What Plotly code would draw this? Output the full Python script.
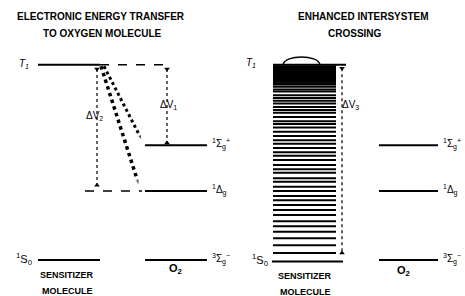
import plotly.graph_objects as go

# ---- data (energies in eV, relative to ground state) ----
s0_energy = 0.0
t1_energy = 2.77
o2_levels = [0.0, 0.98, 1.63]
o2_labels = ["<sup>3</sup>Σ<sub>g</sub><sup>−</sup>", "<sup>1</sup>Δ<sub>g</sub>", "<sup>1</sup>Σ<sub>g</sub><sup>+</sup>"]
isc_ladder = [0.10, 0.21, 0.31, 0.40, 0.48, 0.55, 0.64, 0.71, 0.78, 0.85, 0.91, 0.98,
              1.04, 1.11, 1.16, 1.24, 1.29, 1.35, 1.42, 1.48, 1.53, 1.59, 1.65, 1.70,
              1.76, 1.82, 1.88, 1.93, 1.97, 2.03, 2.09, 2.13, 2.17, 2.22, 2.26, 2.30,
              2.34, 2.39, 2.42, 2.46, 2.49, 2.51, 2.53, 2.55, 2.57, 2.59, 2.61, 2.63,
              2.65, 2.67, 2.69, 2.71, 2.73, 2.75]
titles_left = ["ELECTRONIC ENERGY TRANSFER", "TO OXYGEN MOLECULE"]
titles_right = ["ENHANCED INTERSYSTEM", "CROSSING"]

FONT = "Liberation Sans, Arial, sans-serif"
BLK = "black"

fig = go.Figure()

def hline(x0, x1, y, dash="solid", width=2):
    fig.add_trace(go.Scatter(x=[x0, x1], y=[y, y], mode="lines",
                             line=dict(color=BLK, width=width, dash=dash),
                             hoverinfo="skip", showlegend=False))

def vdouble(x, y0, y1):
    fig.add_trace(go.Scatter(x=[x, x], y=[y0, y1], mode="lines+markers",
                             line=dict(color=BLK, width=1.2, dash="dot"),
                             marker=dict(symbol=["triangle-down", "triangle-up"], size=5, color=BLK),
                             hoverinfo="skip", showlegend=False))

def txt(x, y, s, size=11, anchor="center", bold=False):
    fig.add_annotation(x=x, y=y, text=("<b>%s</b>" % s) if bold else s, showarrow=False,
                       xanchor=anchor, yanchor="middle",
                       font=dict(family=FONT, size=size, color=BLK))

# ---------------- LEFT PANEL ----------------
hline(38, 100, t1_energy)
hline(100, 170, t1_energy, dash="dash", width=1.5)
hline(38, 100, s0_energy)
for e in o2_levels:
    hline(145, 207, e)
hline(85, 142, o2_levels[1], dash="dash", width=1.5)
for e, lab in zip(o2_levels, o2_labels):
    txt(210, e + 0.02, lab, size=10, anchor="left")

vdouble(167, t1_energy - 0.06, o2_levels[2] + 0.03)
vdouble(97, t1_energy - 0.06, o2_levels[1] + 0.08)
txt(168, 2.20, "ΔV<sub>1</sub>", size=10)
txt(94, 2.05, "ΔV<sub>2</sub>", size=10)

fig.add_trace(go.Scatter(x=[101, 139], y=[t1_energy - 0.02, o2_levels[1] + 0.08], mode="lines+markers",
                         line=dict(color=BLK, width=3.5, dash="dot"),
                         marker=dict(symbol="arrow", angleref="previous", size=[0, 6], color=BLK),
                         hoverinfo="skip", showlegend=False))
fig.add_trace(go.Scatter(x=[104, 142], y=[t1_energy - 0.02, o2_levels[2] + 0.07], mode="lines+markers",
                         line=dict(color=BLK, width=3, dash="dot"),
                         marker=dict(symbol="arrow", angleref="previous", size=[0, 6], color=BLK),
                         hoverinfo="skip", showlegend=False))

txt(31, t1_energy + 0.01, "<i>T<sub>1</sub></i>", size=10, anchor="right")
txt(34, s0_energy + 0.01, "<sup>1</sup>S<sub>0</sub>", size=11, anchor="right")
txt(67, -0.21, "SENSITIZER", size=9, bold=True)
txt(67, -0.44, "MOLECULE", size=9, bold=True)
txt(175, -0.12, "O<sub>2</sub>", size=11, bold=True)
txt(101, 3.45, titles_left[0], size=10, bold=True)
txt(102, 3.22, titles_left[1], size=10, bold=True)

# ---------------- RIGHT PANEL ----------------
lx, ly = [], []
for e in isc_ladder:
    lx += [273, 336, None]
    ly += [e, e, None]
fig.add_trace(go.Scatter(x=lx, y=ly, mode="lines", line=dict(color=BLK, width=2),
                         hoverinfo="skip", showlegend=False))
hline(273, 346, t1_energy)
hline(272, 343, s0_energy - 0.02)
for e in o2_levels:
    hline(379, 438, e)
for e, lab in zip(o2_levels, o2_labels):
    txt(441, e + 0.02, lab, size=10, anchor="left")
vdouble(342, t1_energy - 0.05, s0_energy + 0.1)
txt(350, 2.20, "ΔV<sub>3</sub>", size=10)

fig.add_shape(type="path", path="M 283,2.77 C 285,2.92 318,2.92 320,2.77",
              line=dict(color=BLK, width=1.5))

txt(258, t1_energy + 0.03, "<i>T<sub>1</sub></i>", size=10, anchor="right")
txt(270, s0_energy, "<sup>1</sup>S<sub>0</sub>", size=11, anchor="right")
txt(305, -0.23, "SENSITIZER", size=9, bold=True)
txt(305, -0.45, "MOLECULE", size=9, bold=True)
txt(403, -0.16, "O<sub>2</sub>", size=11, bold=True)
txt(363, 3.45, titles_right[0], size=10, bold=True)
txt(355, 3.22, titles_right[1], size=10, bold=True)

fig.update_layout(
    width=465, height=296,
    margin=dict(l=0, r=0, t=0, b=0),
    paper_bgcolor="white", plot_bgcolor="white",
    xaxis=dict(range=[0, 465], visible=False, fixedrange=True),
    yaxis=dict(range=[-0.51, 3.69], visible=False, fixedrange=True),
    showlegend=False,
)

fig.write_html("out.html", config={"displayModeBar": False},
               post_script="document.body.style.margin='0';document.body.style.padding='0';document.body.style.overflow='hidden';")
